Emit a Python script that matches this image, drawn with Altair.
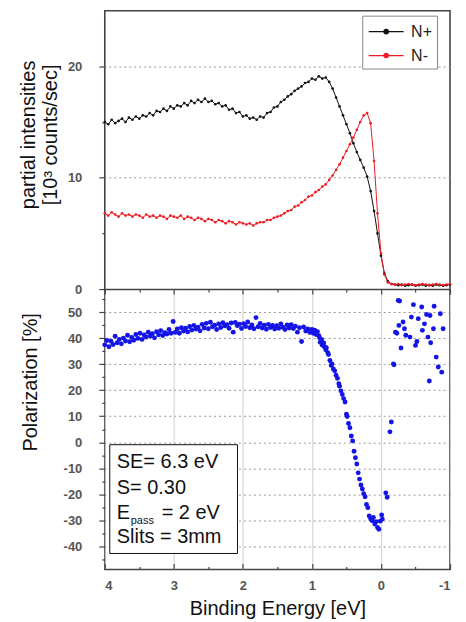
import altair as alt
import pandas as pd

# ---------------- data ----------------
energy = [4.00, 3.95, 3.90, 3.85, 3.80, 3.75, 3.70, 3.65, 3.60, 3.55,
          3.50, 3.45, 3.40, 3.35, 3.30, 3.25, 3.20, 3.15, 3.10, 3.05,
          3.00, 2.95, 2.90, 2.85, 2.80, 2.75, 2.70, 2.65, 2.60, 2.55,
          2.50, 2.45, 2.40, 2.35, 2.30, 2.25, 2.20, 2.15, 2.10, 2.05,
          2.00, 1.95, 1.90, 1.85, 1.80, 1.75, 1.70, 1.65, 1.60, 1.55,
          1.50, 1.45, 1.40, 1.35, 1.30, 1.25, 1.20, 1.15, 1.10, 1.05,
          1.00, 0.95, 0.90, 0.85, 0.80, 0.75, 0.70, 0.65, 0.60, 0.55,
          0.50, 0.45, 0.40, 0.35, 0.30, 0.25, 0.20, 0.15, 0.10, 0.05,
          0.00, -0.05, -0.10, -0.15, -0.20, -0.25, -0.30, -0.35, -0.40, -0.45,
          -0.50, -0.55, -0.60, -0.65, -0.70, -0.75, -0.80, -0.85, -0.90, -0.95,
          -1.00]

n_plus = [15.0, 14.8, 15.2, 14.9, 15.1, 15.3, 15.0, 15.4, 15.2, 15.5,
          15.3, 15.6, 15.5, 15.8, 15.6, 16.0, 15.9, 16.2, 16.0, 16.4,
          16.2, 16.5, 16.4, 16.7, 16.5, 16.9, 16.7, 17.0, 16.8, 17.1,
          16.8, 16.9, 16.6, 16.7, 16.4, 16.5, 16.1, 16.2, 15.8, 15.9,
          15.5, 15.6, 15.3, 15.4, 15.2, 15.5, 15.4, 15.8, 15.9, 16.3,
          16.4, 16.8, 17.0, 17.3, 17.5, 17.8, 18.0, 18.2, 18.5, 18.6,
          18.9, 18.8, 19.1, 18.9, 19.0, 18.6, 18.0, 17.2, 16.4, 15.6,
          14.8, 14.0, 13.1, 12.3, 11.6, 10.9, 10.1, 8.8, 7.0, 5.0,
          3.0, 1.4, 0.7, 0.45, 0.4, 0.35, 0.4, 0.3, 0.35, 0.4,
          0.3, 0.35, 0.4, 0.3, 0.35, 0.3, 0.4, 0.35, 0.3, 0.35,
          0.4]

n_minus = [6.8, 6.6, 6.9, 6.7, 6.5, 6.8, 6.6, 6.7, 6.5, 6.7,
           6.6, 6.4, 6.7, 6.5, 6.6, 6.4, 6.6, 6.5, 6.3, 6.6,
           6.5, 6.4, 6.6, 6.3, 6.5, 6.4, 6.2, 6.4, 6.3, 6.1,
           6.3, 6.2, 6.0, 6.2, 6.1, 5.9, 6.1, 6.0, 5.8, 6.0,
           5.9, 5.8, 5.9, 5.7, 5.9, 6.0, 6.0, 6.2, 6.2, 6.4,
           6.5, 6.6, 6.8, 7.0, 7.1, 7.4, 7.5, 7.8, 8.0, 8.3,
           8.4, 8.7, 8.9, 9.2, 9.4, 9.8, 10.2, 10.7, 11.2, 11.8,
           12.4, 13.0, 13.6, 14.3, 15.0, 15.6, 15.8, 14.9, 11.5, 6.8,
           3.2, 1.3, 0.6, 0.45, 0.4, 0.45, 0.35, 0.4, 0.45, 0.4,
           0.35, 0.4, 0.45, 0.4, 0.35, 0.4, 0.45, 0.4, 0.35, 0.4,
           0.45]

pol_energy = [4.00, 3.97, 3.94, 3.91, 3.88, 3.85, 3.82, 3.79, 3.76, 3.73,
              3.70, 3.67, 3.64, 3.61, 3.58, 3.55, 3.52, 3.49, 3.46, 3.43,
              3.40, 3.37, 3.34, 3.31, 3.28, 3.25, 3.22, 3.19, 3.16, 3.13,
              3.10, 3.07, 3.04, 3.01, 2.98, 2.95, 2.92, 2.89, 2.86, 2.83,
              2.80, 2.77, 2.74, 2.71, 2.68, 2.65, 2.62, 2.59, 2.56, 2.53,
              2.50, 2.47, 2.44, 2.41, 2.38, 2.35, 2.32, 2.29, 2.26, 2.23,
              2.20, 2.17, 2.14, 2.11, 2.08, 2.05, 2.02, 1.99, 1.96, 1.93,
              1.90, 1.87, 1.84, 1.81, 1.78, 1.75, 1.72, 1.69, 1.66, 1.63,
              1.60, 1.57, 1.54, 1.51, 1.48, 1.45, 1.42, 1.39, 1.36, 1.33,
              1.30, 1.27, 1.24, 1.21, 1.18, 1.15, 1.12, 1.09, 1.06, 1.03,
              1.00,
              0.98, 0.96, 0.94, 0.92, 0.90, 0.89, 0.88, 0.86, 0.85, 0.83,
              0.82, 0.80, 0.79, 0.77, 0.76, 0.74, 0.72, 0.71, 0.69, 0.67,
              0.65, 0.63, 0.61, 0.60, 0.58, 0.56, 0.54, 0.52, 0.50, 0.49,
              0.47, 0.45, 0.43, 0.41, 0.39, 0.37, 0.35, 0.33, 0.31, 0.29,
              0.27, 0.25, 0.23, 0.21, 0.19, 0.17, 0.15, 0.13, 0.11, 0.09,
              0.07, 0.05, 0.03, 0.01, -0.01, -0.02, -0.07, -0.09,
              -0.13, -0.15, -0.18, -0.19, -0.21, -0.23, -0.25, -0.26, -0.27,
              -0.29, -0.32, -0.34, -0.36, -0.42, -0.44, -0.47, -0.50, -0.52, -0.54,
              -0.59, -0.60, -0.63, -0.66, -0.68, -0.70, -0.71, -0.72, -0.76, -0.77,
              -0.80, -0.83, -0.86, -0.88, -0.90]

pol_values = [37.5, 39.2, 36.8, 38.9, 37.6, 40.8, 38.3, 39.6, 37.9, 40.1,
              39.0, 41.2, 38.7, 40.4, 39.3, 41.5, 40.0, 42.0, 39.6, 41.3,
              40.5, 42.4, 40.9, 41.8, 40.2, 42.6, 41.4, 43.0, 41.1, 42.2,
              41.7, 43.4, 42.0, 46.5, 42.3, 43.6, 42.0, 44.1, 42.8, 43.9,
              42.5, 44.6, 43.2, 45.0, 43.6, 44.3, 42.9, 45.4, 44.0, 45.8,
              43.7, 46.2, 44.5, 45.1, 43.4, 45.6, 44.2, 46.0, 44.8, 45.3,
              43.9, 45.9, 42.4, 46.1, 44.9, 45.5, 43.8, 45.7, 44.6, 46.3,
              44.1, 45.2, 43.7, 48.0, 44.5, 45.8, 44.0, 45.1, 43.5, 45.4,
              44.2, 45.0, 43.6, 44.9, 43.9, 45.6, 44.3, 43.4, 45.2, 44.0,
              45.3, 43.8, 44.7, 42.4, 44.1, 38.8, 44.4, 42.8, 43.6, 42.3,
              43.4,
              42.0, 43.2, 41.5, 42.6, 41.0, 40.2, 38.5, 39.6, 37.4, 38.2,
              36.8, 35.6, 36.4, 34.5, 33.8, 31.5, 29.6, 30.2, 28.2, 27.5,
              25.8, 24.6, 22.5, 21.6, 19.8, 18.4, 16.8, 15.5, 10.8, 9.9,
              7.2, 5.6, 2.4, 0.5, -3.5, -6.0, -8.4, -11.8, -14.2, -16.5,
              -18.0, -19.8, -21.0, -24.0, -25.2, -28.4, -29.5, -30.2, -29.0, -31.5,
              -30.6, -32.8, -33.5, -30.4, -28.0, -29.6, -19.5, -21.2,
              4.0, 7.8, 30.2, 29.8, 42.4, 42.0, 54.6, 45.0, 54.4,
              36.3, 46.3, 43.7, 41.2, 40.5, 48.2, 53.0, 37.3, 38.8, 47.6,
              52.1, 43.1, 45.6, 49.2, 40.5, 23.6, 48.8, 38.3, 43.7, 52.4,
              32.8, 29.0, 49.5, 27.0, 43.7]

series_names = ["N+", "N-"]
series_colors = ["#111111", "#ee1c24"]

x_major = [4, 3, 2, 1, 0, -1]
x_minor = [3.5, 2.5, 1.5, 0.5, -0.5]
top_major = [0, 10, 20]
top_minor = [5, 15]
bot_major = [-40, -30, -20, -10, 0, 10, 20, 30, 40, 50]
bot_minor = [-45, -35, -25, -15, -5, 5, 15, 25, 35, 45, 55]

note_lines = ["SE= 6.3 eV", "S= 0.30", "E", "pass", "= 2 eV", "Slits = 3mm"]

# ---------------- tables ----------------
df_int = pd.DataFrame({
    "E": energy + energy,
    "I": n_plus + n_minus,
    "series": [series_names[0]] * len(energy) + [series_names[1]] * len(energy),
})
df_pol = pd.DataFrame({"E": pol_energy, "P": pol_values})
one = pd.DataFrame({"k": [0]})

FONT = "Liberation Sans"
W = 346            # plot width
H_TOP = 279        # upper panel height (pixels)
H = 560            # both panels
SEP = H - H_TOP    # distance of separator from bottom
GRIDX = "#cfcfcf"
MINUS = "datum.value < 0 ? '-' + abs(datum.value) : '' + datum.value"

xscale = alt.Scale(domain=[-1, 4], reverse=True, nice=False, zero=False)
ys_top = alt.Scale(domain=[0, 25], range=[H_TOP, 0], nice=False, zero=False)
ys_bot = alt.Scale(domain=[-49, 59], range=[H, H_TOP], nice=False, zero=False)

sym = "M-1.75,0H1.75M0.22,0A0.22,0.22,0,1,1,-0.22,0A0.22,0.22,0,1,1,0.22,0"


def ticks_only(orient, values, size, offset=0, domain=False):
    return alt.Axis(orient=orient, values=values, labels=False, title=None,
                    tickSize=size, offset=offset, grid=False, domain=domain,
                    domainWidth=1.6, domainColor="#444")


def carrier(data, yfield, yscale, xaxis, yaxis=None):
    """Invisible layer that only carries an extra tick axis."""
    return alt.Chart(data).mark_point(opacity=0).encode(
        x=alt.X("E:Q", scale=xscale, axis=xaxis),
        y=alt.Y(yfield, scale=yscale, axis=yaxis),
    )


# ---------------- upper panel: partial intensities ----------------
lines = alt.Chart(df_int).mark_line(
    strokeWidth=1, point=alt.OverlayMarkDef(filled=True, size=7)
).encode(
    x=alt.X("E:Q", scale=xscale, axis=alt.Axis(
        orient="bottom", values=x_major, title="Binding Energy [eV]", ticks=False,
        labelPadding=10, titlePadding=6, grid=True, gridColor=GRIDX, domain=False,
        labelExpr=MINUS)),
    y=alt.Y("I:Q", scale=ys_top, axis=alt.Axis(
        orient="left", values=top_major, title=["partial intensities", "[10³ counts/sec]"],
        titleX=-70, titleY=124, titleBaseline="alphabetic", titleAngle=270,
        titleAlign="center", titleLineHeight=22, tickSize=6, labelPadding=17, grid=True,
        gridDash=[2, 3], gridColor="#999999", domain=False)),
    color=alt.Color("series:N", scale=alt.Scale(domain=series_names, range=series_colors),
                    legend=alt.Legend(title=None, orient="none", legendX=258, legendY=5,
                                      symbolType=sym, symbolSize=400, symbolStrokeWidth=1.2,
                                      symbolOffset=8, labelOffset=14, rowPadding=5,
                                      labelFont=FONT, labelFontSize=16, labelColor="#222",
                                      padding=5, strokeColor="#888", fillColor="white")),
)

sep_major = carrier(df_int, "I:Q", ys_top,
                    ticks_only("bottom", x_major, 5, -SEP, domain=True),
                    ticks_only("left", top_minor, 3))

# ---------------- lower panel: polarization ----------------
points = alt.Chart(df_pol).mark_circle(size=24, color="#1414e6", opacity=1).encode(
    x=alt.X("E:Q", scale=xscale, axis=ticks_only("bottom", x_major, 6, -6)),
    y=alt.Y("P:Q", scale=ys_bot, axis=alt.Axis(
        orient="left", values=bot_major, title="Polarization [%]",
        titleX=-68, titleY=372, titleBaseline="alphabetic", titleAngle=270,
        titleAlign="center",
        tickSize=6, labelPadding=17, grid=True, gridDash=[2, 3], gridColor="#999999",
        domain=False, labelExpr=MINUS)),
)

bot_minor_ticks = carrier(df_pol, "P:Q", ys_bot,
                          ticks_only("bottom", x_minor, 3, -3),
                          ticks_only("left", bot_minor, 3))
sep_minor = carrier(df_pol, "P:Q", ys_bot, ticks_only("bottom", x_minor, 3, -SEP))

box = alt.Chart(one).mark_rect(fill="white", stroke="#111", strokeWidth=1).encode(
    x=alt.value(5), x2=alt.value(133), y=alt.value(435), y2=alt.value(544))


def note(txt, x, y, size=20):
    return alt.Chart(one).mark_text(
        align="left", baseline="middle", font=FONT, fontSize=size, color="#111"
    ).encode(x=alt.value(x), y=alt.value(y), text=alt.value(txt))


notes = [
    note(note_lines[0], 12, 452),
    note(note_lines[1], 12, 478),
    note(note_lines[2], 12, 503),
    note(note_lines[3], 26, 511, 11),
    note(note_lines[4], 57, 503),
    note(note_lines[5], 12, 528),
]

chart = alt.layer(
    lines, sep_major, points, bot_minor_ticks, sep_minor, box, *notes
).resolve_scale(
    y="independent"
).resolve_axis(
    x="independent", y="independent"
).properties(
    width=W, height=H,
    padding={"left": 11, "top": 2, "right": 5, "bottom": 2}
).configure_view(
    stroke="#444", strokeWidth=1.6
).configure_axis(
    labelFont=FONT, labelFontSize=13, labelFontWeight="bold", labelColor="#555",
    tickColor="#444", tickWidth=1.2, domainColor="#444",
    titleFont=FONT, titleFontSize=20, titleFontWeight="normal", titleColor="#111"
)

chart.save("out.html", embed_options={"renderer": "svg", "actions": False})
